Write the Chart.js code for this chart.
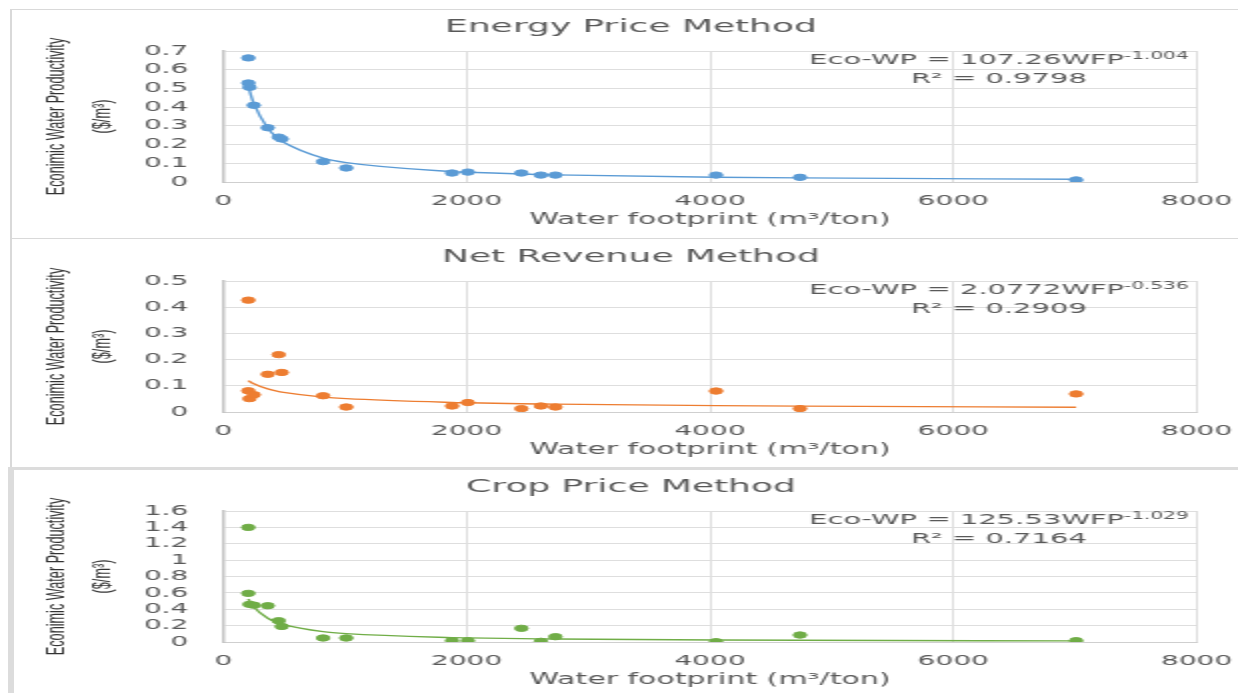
<!DOCTYPE html>
<html>
<head>
<meta charset="utf-8">
<title>Economic water productivity vs water footprint</title>
<script src="https://cdn.jsdelivr.net/npm/chart.js@4.4.1/dist/chart.umd.min.js"></script>
<style>
  html, body { margin: 0; padding: 0; background: #fff; overflow: hidden; width: 1238px; height: 693px; }
  /* the sheet is laid out at half width and stretched 2x horizontally */
  #sheet { position: absolute; left: 0; top: 0; width: 631px; height: 693px; transform: scaleX(2); transform-origin: 0 0; }
  .frame { position: absolute; box-sizing: border-box; border: 1px solid #d9d9d9; }
  canvas { position: absolute; left: 0; }
</style>
</head>
<body>
<div id="sheet">
  <div class="frame" style="left:5px; top:9px; width:700px; height:230px;"></div>
  <div class="frame" style="left:5px; top:238px; width:700px; height:230px; border-top:none;"></div>
  <div class="frame" style="left:4px; top:467px; width:700px; height:260px; border-width:3px 0 0 3.5px; border-color:#dcdcdc;"></div>
  <canvas id="energy" width="631" height="229" style="top:8px"></canvas>
  <canvas id="netRevenue" width="631" height="229" style="top:238px"></canvas>
  <canvas id="cropPrice" width="631" height="229" style="top:468px"></canvas>
</div>
<script>
// water footprint of each crop (m3/ton), shared by all three methods
const waterFootprint = [205, 205, 215, 250, 365, 455, 480, 820, 1010, 1880, 2010, 2450, 2610, 2730, 4050, 4740, 7010];

// economic water productivity ($/m3) per valuation method
const energyWP     = [0.663, 0.529, 0.506, 0.41, 0.29, 0.24, 0.23, 0.109, 0.075, 0.048, 0.053, 0.048, 0.037, 0.037, 0.037, 0.025, 0.011];
const netRevenueWP = [0.427, 0.081, 0.051, 0.066, 0.144, 0.219, 0.151, 0.062, 0.019, 0.023, 0.036, 0.013, 0.023, 0.019, 0.080, 0.013, 0.069];
const cropPriceWP  = [1.40, 0.594, 0.46, 0.45, 0.443, 0.26, 0.19, 0.049, 0.049, 0.016, 0.016, 0.167, 0.008, 0.065, 0.004, 0.085, 0.016];

// power trendlines: Eco-WP = a * WFP^b
const energyFit     = [107.26, -1.004];
const netRevenueFit = [2.0772, -0.536];
const cropPriceFit  = [125.53, -1.029];
const energyR2 = "0.9798";
const netRevenueR2 = "0.2909";
const cropPriceR2 = "0.7164";

// axis ticks
const xTicks = [0, 2000, 4000, 6000, 8000];
const xTickLabels = ["0", "2000", "4000", "6000", "8000"];
const energyTicks = [0, 0.1, 0.2, 0.3, 0.4, 0.5, 0.6, 0.7];
const energyTickLabels = ["0", "0.1", "0.2", "0.3", "0.4", "0.5", "0.6", "0.7"];
const netRevenueTicks = [0, 0.1, 0.2, 0.3, 0.4, 0.5];
const netRevenueTickLabels = ["0", "0.1", "0.2", "0.3", "0.4", "0.5"];
const cropPriceTicks = [0, 0.2, 0.4, 0.6, 0.8, 1, 1.2, 1.4, 1.6];
const cropPriceTickLabels = ["0", "0.2", "0.4", "0.6", "0.8", "1", "1.2", "1.4", "1.6"];

const textGray = "#595959";
const gridGray = "#dedede";
const canvasWidth = 631;
const plotLeft = 111.7;
const plotRight = 598.3;

// trendline equation and R² in the top right corner of the plot
const equationLabel = {
  id: "equationLabel",
  afterDatasetsDraw(chart, args, opts) {
    const { ctx, chartArea } = chart;
    const big = '14.5px "DejaVu Sans"';
    const small = '10px "DejaVu Sans"';
    ctx.save();
    ctx.fillStyle = textGray;
    ctx.textBaseline = "middle";
    ctx.font = big;
    const wMain = ctx.measureText(opts.main).width;
    ctx.font = small;
    const wSup = ctx.measureText(opts.sup).width;
    const right = chartArea.right - 4;
    const left = right - wMain - wSup;
    const y1 = chartArea.top + 9.5;
    ctx.textAlign = "left";
    ctx.font = big;
    ctx.fillText(opts.main, left, y1);
    ctx.font = small;
    ctx.fillText(opts.sup, left + wMain, y1 - 4);
    ctx.font = big;
    ctx.textAlign = "center";
    ctx.fillText("R² = " + opts.r2, (left + right) / 2, chartArea.top + 28.5);
    ctx.restore();
  }
};

function makePanel(id, title, ys, color, fit, r2, yTicks, yLabels) {
  const points = waterFootprint.map((x, i) => ({ x: x, y: ys[i] }));
  const trendX = Array.from(new Set(waterFootprint));
  const trend = trendX.map(x => ({ x: x, y: fit[0] * Math.pow(x, fit[1]) }));
  const expo = fit[1].toFixed(3);
  // empty space right of the plot, reserved by a hidden axis so the title stays centred on the panel
  let rightGap = canvasWidth - plotRight;

  const chart = new Chart(document.getElementById(id), {
    type: "scatter",
    data: {
      datasets: [
        {
          data: trend,
          showLine: true,
          borderColor: color,
          borderWidth: 1.4,
          pointRadius: 0,
          cubicInterpolationMode: "monotone"
        },
        {
          data: points,
          backgroundColor: color,
          borderColor: color,
          pointRadius: 3.2,
          pointBorderWidth: 1
        }
      ]
    },
    options: {
      responsive: false,
      animation: false,
      devicePixelRatio: 1,
      layout: { padding: 0 },
      plugins: {
        legend: { display: false },
        tooltip: { enabled: false },
        title: {
          display: true,
          text: title,
          color: textGray,
          font: { family: "DejaVu Sans", size: 18, weight: "normal" },
          padding: { top: 8.4, bottom: 13 }
        },
        equationLabel: { main: "Eco-WP = " + fit[0] + "WFP", sup: expo, r2: r2 }
      },
      scales: {
        x: {
          type: "linear",
          min: 0,
          max: 8000,
          afterBuildTicks: s => { s.ticks = xTicks.map(v => ({ value: v })); },
          afterFit: s => { s.height = 55; },
          grid: { color: gridGray, drawTicks: false },
          border: { color: "#cfcfcf" },
          ticks: {
            autoSkip: false,
            maxRotation: 0,
            color: textGray,
            padding: 10.6,
            font: { family: "DejaVu Sans", size: 14 },
            callback: (v, i) => xTickLabels[i]
          },
          title: {
            display: true,
            text: "Water footprint (m³/ton)",
            color: textGray,
            font: { family: "DejaVu Sans", size: 15 },
            padding: { top: 2, bottom: 8 }
          }
        },
        y: {
          type: "linear",
          min: yTicks[0],
          max: yTicks[yTicks.length - 1],
          afterBuildTicks: s => { s.ticks = yTicks.map(v => ({ value: v })); },
          afterFit: s => { s.width = plotLeft; },
          grid: { color: gridGray, drawTicks: false },
          border: { color: "#c4c4c4", width: 1.5 },
          ticks: {
            autoSkip: false,
            color: textGray,
            padding: 17.5,
            font: { family: "DejaVu Sans", size: 14 },
            callback: (v, i) => yLabels[i]
          },
          title: {
            display: true,
            text: ["Econimic Water Productivity", "($/m³)"],
            color: "#333333",
            font: { family: "Liberation Sans", size: 12.7, lineHeight: 1.85 },
            padding: { top: 16.3, bottom: 0 }
          }
        },
        gap: {
          type: "linear",
          position: "right",
          afterFit: s => { s.width = rightGap; },
          grid: { display: false },
          border: { display: false },
          ticks: { display: false }
        }
      }
    },
    plugins: [equationLabel]
  });

  // keep the plot box at the same right edge in every panel
  rightGap += chart.chartArea.right - plotRight;
  chart.update();
}

makePanel("energy", "Energy Price Method", energyWP, "#5b9bd5", energyFit, energyR2, energyTicks, energyTickLabels);
makePanel("netRevenue", "Net Revenue Method", netRevenueWP, "#ed7d31", netRevenueFit, netRevenueR2, netRevenueTicks, netRevenueTickLabels);
makePanel("cropPrice", "Crop Price Method", cropPriceWP, "#70ad47", cropPriceFit, cropPriceR2, cropPriceTicks, cropPriceTickLabels);
</script>
</body>
</html>
